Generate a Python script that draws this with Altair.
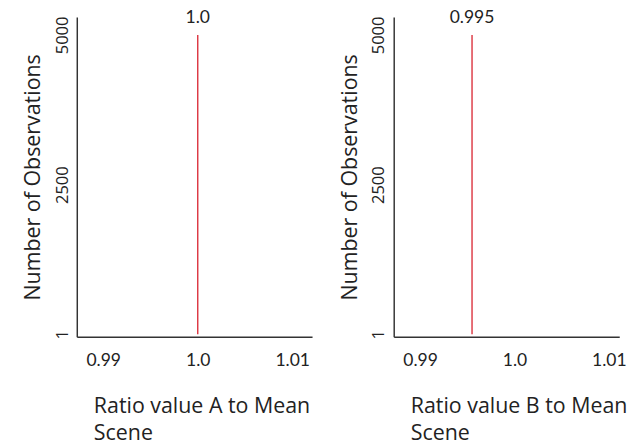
import altair as alt
import pandas as pd

# ---- data ----
panel_ids = ["A", "B"]
x_tick_values = [0.99, 1.0, 1.01]
y_tick_values = [1, 2500, 5000]
x_titles = [["Ratio value A to Mean", "Scene"], ["Ratio value B to Mean", "Scene"]]
y_title = "Number of Observations"
line_positions = [1.0, 0.9955]
line_labels = ["1.0", "0.995"]
count_low = [1, 1]
count_high = [5000, 5000]
x_domains = [[0.9872, 1.0121], [0.9872, 1.0111]]
y_domain = [-40, 5300]
panel_widths = [242, 232]
panel_height = 329

AXIS_COLOR = "#333333"
LINE_COLOR = "#dd3b46"
TEXT_COLOR = "#222222"


def make_panel(i):
    df = pd.DataFrame({
        "panel": [panel_ids[i]],
        "x": [line_positions[i]],
        "lo": [count_low[i]],
        "hi": [count_high[i]],
        "label": [line_labels[i]],
    })
    x_scale = alt.Scale(domain=x_domains[i], nice=False, zero=False)
    y_scale = alt.Scale(domain=y_domain, nice=False, zero=False)
    x_axis = alt.Axis(
        values=x_tick_values,
        labelExpr="datum.value == 1 ? '1.0' : format(datum.value, '.2f')",
        title=x_titles[i],
        titleX=17, titleY=61, titleAlign="left", titleAnchor="start",
        titleBaseline="top", titleLineHeight=28,
        titleFont="Open Sans", titleFontSize=22, titleFontWeight="normal", titleColor=TEXT_COLOR,
        labelFont="Lato", labelFontSize=18, labelColor=TEXT_COLOR, labelPadding=16,
        labelFlush=False, labelOverlap=False,
        ticks=False, tickSize=0, grid=False,
        domainColor=AXIS_COLOR, domainWidth=1.5,
    )
    y_axis = alt.Axis(
        values=y_tick_values, format="d",
        title=y_title,
        titleX=-45, titleY=panel_height / 2, titleAngle=270, titleAlign="center",
        titleBaseline="middle",
        titleFont="Open Sans", titleFontSize=22, titleFontWeight="normal", titleColor=TEXT_COLOR,
        labelFont="Open Sans", labelFontSize=17, labelColor=TEXT_COLOR,
        labelAngle=270, labelAlign="center", labelBaseline="bottom", labelPadding=6,
        labelFlush=False, labelOverlap=False,
        ticks=False, tickSize=0, grid=False,
        domainColor=AXIS_COLOR, domainWidth=1.5,
    )
    base = alt.Chart(df)
    rule = base.mark_rule(color=LINE_COLOR, strokeWidth=1.5).encode(
        x=alt.X("x:Q", scale=x_scale, axis=x_axis),
        y=alt.Y("lo:Q", scale=y_scale, axis=y_axis),
        y2="hi:Q",
    )
    label = base.mark_text(
        dy=-17.5, font="Lato", fontSize=18, color=TEXT_COLOR, baseline="middle"
    ).encode(
        x=alt.X("x:Q", scale=x_scale),
        y=alt.Y("hi:Q", scale=y_scale),
        text="label:N",
    )
    return alt.layer(rule, label).properties(width=panel_widths[i], height=panel_height)


chart = alt.hconcat(make_panel(0), make_panel(1), spacing=27).properties(
    padding={"left": 22, "top": 2, "right": 0, "bottom": 0},
    background="white",
).configure_view(strokeWidth=0, stroke="transparent")

chart.save("out.html", embed_options={"renderer": "svg", "actions": False})
